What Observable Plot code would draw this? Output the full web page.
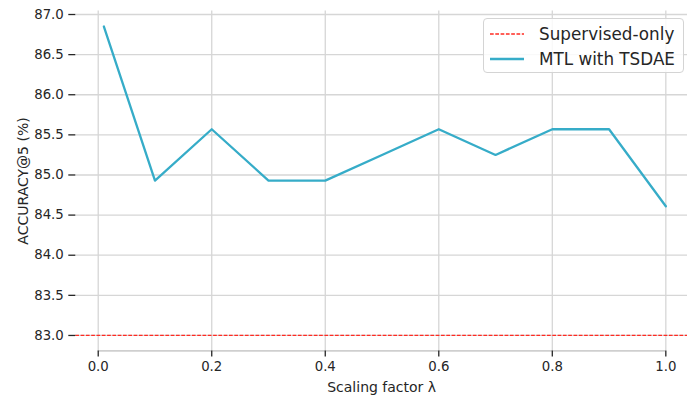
<!DOCTYPE html>
<html>
<head>
<meta charset="utf-8">
<script src="https://cdn.jsdelivr.net/npm/d3@7"></script>
<script src="https://cdn.jsdelivr.net/npm/@observablehq/plot@0.6"></script>
<style>
  html, body { margin: 0; padding: 0; background: white; }
  #wrap { position: relative; width: 687px; height: 398px; font-family: "DejaVu Sans", sans-serif; }
  #wrap > svg { position: absolute; left: 0; top: 0; }
  #legend { position: absolute; left: 483px; top: 18px; width: 201px; height: 55px; box-sizing: border-box;
            border: 1px solid #d4d4d4; border-radius: 4px; background: rgba(255,255,255,0.85); }
  .row { position: absolute; left: 0; height: 24px; width: 100%; }
  .row svg { position: absolute; left: 6px; top: 0; }
  .row span { position: absolute; left: 55px; top: 0; line-height: 24px; font-size: 16.8px; color: #262626; white-space: nowrap; }
</style>
</head>
<body>
<div id="wrap"></div>
<script>
// ---- data ----
const lambdas = [0.01, 0.1, 0.2, 0.3, 0.4, 0.5, 0.6, 0.7, 0.8, 0.9, 1.0];
const mtlAccuracy = [86.85, 84.93, 85.57, 84.93, 84.93, 85.25, 85.57, 85.25, 85.57, 85.57, 84.61];
const supervisedAccuracy = [83.0];
const xTicks = [0.0, 0.2, 0.4, 0.6, 0.8, 1.0];
const yTicks = [83.0, 83.5, 84.0, 84.5, 85.0, 85.5, 86.0, 86.5, 87.0];
const seriesNames = ["Supervised-only", "MTL with TSDAE"];
const seriesColors = ["#ff2b22", "#36acc8"];
const xLabel = "Scaling factor λ";
const yLabel = "ACCURACY@5 (%)";

const mtl = lambdas.map((l, i) => ({lambda: l, acc: mtlAccuracy[i]}));

// matplotlib-like 5% margins
const allY = mtlAccuracy.concat(supervisedAccuracy);
const yMin = d3.min(allY), yMax = d3.max(allY);
const yPad = (yMax - yMin) * 0.05;
const yDomain = [yMin - yPad, yMax + yPad];
const xMin = d3.min(lambdas), xMax = d3.max(lambdas);
const xPad = (xMax - xMin) * 0.05;
const xLeft = xMin - xPad;
const pxPerUnit = 567.6;
const marginLeft = 75.3;
const width = 687;
const xRight = xLeft + (width - marginLeft) / pxPerUnit; // figure clipped at right

const chart = Plot.plot({
  width: width,
  height: 398,
  marginLeft: marginLeft,
  marginRight: 0,
  marginTop: 10.6,
  marginBottom: 47.6,
  style: {fontFamily: "DejaVu Sans", fontSize: "13.3px", color: "#262626", background: "transparent"},
  x: {domain: [xLeft, xRight]},
  y: {domain: yDomain},
  marks: [
    Plot.gridX(xTicks, {stroke: "#d6d6d6", strokeOpacity: 1, strokeWidth: 1.3}),
    Plot.gridY(yTicks, {stroke: "#d6d6d6", strokeOpacity: 1, strokeWidth: 1.3}),
    Plot.ruleY([yDomain[0]], {x1: xTicks[0], x2: xTicks[xTicks.length - 1], stroke: "#cfcfcf", strokeWidth: 1.6}),
    Plot.ruleY(supervisedAccuracy, {y: d => d, stroke: seriesColors[0], strokeOpacity: 1, strokeWidth: 1.3, strokeDasharray: "3.7,1.6"}),
    Plot.line(mtl, {x: "lambda", y: "acc", stroke: seriesColors[1], strokeWidth: 2.3}),
    Plot.axisX({ticks: xTicks, tickFormat: d3.format(".1f"), tickSize: 6, tickPadding: 5, strokeWidth: 1.3, label: null}),
    Plot.axisX({ticks: [], label: xLabel, labelAnchor: "center", labelOffset: 41, labelArrow: "none", fontSize: 14}),
    Plot.axisY({ticks: yTicks, tickFormat: d3.format(".1f"), tickSize: 7, tickPadding: 5, strokeWidth: 1.3, label: null}),
    Plot.axisY({ticks: [], label: yLabel, labelAnchor: "center", labelOffset: 58, labelArrow: "none", fontSize: 14})
  ]
});

const wrap = document.getElementById("wrap");
wrap.appendChild(chart);

// legend
const legend = document.createElement("div");
legend.id = "legend";
const rowTops = [3, 27.5];
seriesNames.forEach((name, i) => {
  const row = document.createElement("div");
  row.className = "row";
  row.style.top = rowTops[i] + "px";
  const dash = i === 0 ? 'stroke-dasharray="3.7,1.6" stroke-width="1.3"' : 'stroke-width="2.3"';
  row.innerHTML = `<svg width="35" height="24"><line x1="0" x2="34" y1="12" y2="12" stroke="${seriesColors[i]}" ${dash}/></svg><span>${name}</span>`;
  legend.appendChild(row);
});
wrap.appendChild(legend);
</script>
</body>
</html>
